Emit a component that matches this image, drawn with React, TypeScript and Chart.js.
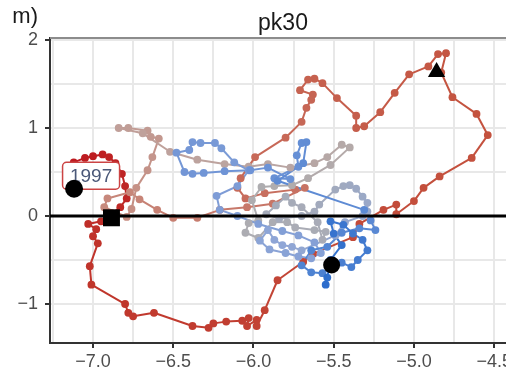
import React, { useEffect, useRef } from "react";
import { Chart, registerables } from "chart.js";

Chart.register(...registerables);

// Trajectory of station pk30 (ordered in time, red = early, blue = late)
const pathX = [
  -7.12, -7.05, -7.0, -6.94, -6.9, -6.86, -6.82, -6.8, -6.79, -6.83,
  -6.88, -6.95, -7.03, -6.98, -7.0, -6.97, -7.02, -7.01, -6.8, -6.78,
  -6.75, -6.62, -6.38, -6.28, -6.25, -6.17, -6.07, -6.03, -6.04, -5.98,
  -5.98, -5.93, -5.85, -5.69, -5.63, -5.38, -5.34, -5.19, -5.11, -5.11,
  -5.0, -4.94, -4.84, -4.64, -4.54, -4.61, -4.76, -4.83, -4.8, -4.85,
  -4.91, -5.03, -5.12, -5.21, -5.31, -5.36, -5.36, -5.48, -5.57, -5.62,
  -5.66, -5.71, -5.63, -5.64, -5.67, -5.7, -5.8, -5.99, -6.08, -6.1,
  -6.05, -5.93, -5.74, -5.68, -5.88, -6.04, -6.21, -6.35, -6.5, -6.6,
  -6.71, -6.77, -6.91, -6.93, -6.79, -6.76, -6.73, -6.66, -6.63, -6.59,
  -6.64, -6.66, -6.78, -6.84, -6.69, -6.52, -6.35, -6.18, -6.03, -5.91,
  -5.77, -5.62, -5.54, -5.45, -5.4, -5.52, -5.66, -5.76, -5.87, -5.95,
  -6.01, -5.97, -6.03, -6.05, -5.97, -5.88, -5.79, -5.74, -5.62, -5.55,
  -5.57, -5.6, -5.7, -5.76, -5.8, -5.86, -5.92, -5.84, -5.7, -5.62,
  -5.59, -5.49, -5.44, -5.4, -5.36,
  -5.32, -5.29, -5.29, -5.32, -5.43, -5.49, -5.7, -5.76, -5.82, -5.87,
  -5.91, -5.96, -5.9, -5.8, -5.72, -5.64, -5.58, -5.62, -5.72, -5.82,
  -5.97, -6.1, -6.21, -6.23, -6.1, -6.03, -6.12, -6.2, -6.24, -6.33,
  -6.38, -6.4, -6.48, -6.43, -6.38, -6.31, -6.18, -6.02, -5.91, -5.77,
  -5.87, -5.72, -5.73, -5.7, -5.67, -5.69, -5.85, -5.31, -5.27, -5.24,
  -5.34, -5.45, -5.54, -5.64, -5.7, -5.64, -5.57, -5.45, -5.39, -5.35,
  -5.29, -5.32, -5.38, -5.44, -5.52, -5.5, -5.45, -5.52, -5.54, -5.55,
];
const pathY = [
  0.61, 0.66, 0.68, 0.7, 0.67, 0.6, 0.48, 0.34, 0.2, 0.1,
  0.03, -0.06, -0.09, -0.15, -0.23, -0.31, -0.57, -0.78, -1.0, -1.1,
  -1.14, -1.1, -1.25, -1.27, -1.22, -1.2, -1.19, -1.16, -1.25, -1.18,
  -1.25, -1.07, -0.73, -0.52, -0.43, -0.24, -0.09, 0.07, 0.13, 0.02,
  0.17, 0.32, 0.45, 0.66, 0.92, 1.16, 1.35, 1.63, 1.85, 1.84,
  1.7, 1.61, 1.4, 1.18, 1.02, 1.0, 1.14, 1.34, 1.51, 1.56,
  1.55, 1.43, 1.38, 1.32, 1.23, 1.07, 0.89, 0.67, 0.43, 0.32,
  0.2, 0.26, 0.3, 0.32, 0.14, 0.1, 0.07, -0.02, -0.02, 0.07,
  0.19, 0.27, 0.2, 0.1, -0.01, 0.08, 0.32, 0.52, 0.67, 0.88,
  0.9, 0.97, 1.0, 1.0, 0.94, 0.73, 0.64, 0.59, 0.56, 0.59,
  0.55, 0.6, 0.67, 0.81, 0.78, 0.58, 0.43, 0.35, 0.34, 0.33,
  0.18, -0.05, -0.08, -0.19, -0.25, -0.07, -0.07, -0.13, -0.16, -0.18,
  -0.27, -0.07, 0.1, 0.15, 0.22, 0.12, 0.02, -0.03, 0.0, 0.05,
  0.13, 0.3, 0.34, 0.35, 0.31,
  0.22, 0.15, 0.05, 0.0, -0.07, -0.22, -0.39, -0.35, -0.33, -0.27,
  -0.16, -0.28, -0.38, -0.42, -0.46, -0.48, -0.42, -0.3, -0.22, -0.17,
  -0.09, 0.0, 0.07, 0.23, 0.34, 0.52, 0.61, 0.77, 0.83, 0.83,
  0.84, 0.75, 0.72, 0.5, 0.48, 0.49, 0.51, 0.52, 0.55, 0.42,
  0.43, 0.56, 0.69, 0.83, 0.84, 0.6, 0.4, 0.07, -0.05, -0.16,
  -0.14, -0.19, -0.35, -0.39, -0.56, -0.64, -0.65, -0.53, -0.58, -0.5,
  -0.39, -0.27, -0.2, -0.1, -0.06, -0.2, -0.33, -0.5, -0.7, -0.78,
];

// Reference markers
const startCircle = { x: -7.118, y: 0.31 };
const startLabel = "1997";
const squareMarker = { x: -6.885, y: -0.02 };
const triangleMarker = { x: -4.859, y: 1.636 };
const endCircle = { x: -5.513, y: -0.557 };

// Axes
const xRange = [-7.268, -4.364];
const yRange = [-1.443, 2.023];
const xGridValues = [-7.25, -7.0, -6.75, -6.5, -6.25, -6.0, -5.75, -5.5, -5.25, -5.0, -4.75, -4.5];
const xTickValues = [-7.0, -6.5, -6.0, -5.5, -5.0, -4.5];
const xTickLabels = ["\u22127.0", "\u22126.5", "\u22126.0", "\u22125.5", "\u22125.0", "\u22124.5"];
const yGridValues = [-1.0, -0.5, 0, 0.5, 1.0, 1.5, 2.0];
const yTickValues = [-1, 0, 1, 2];
const yTickLabels = ["\u22121", "0", "1", "2"];

const panelTitle = "pk30";
const cornerText = "m)";

const FONT = "'Liberation Sans', Arial, Helvetica, sans-serif";

// colour ramp along the time axis of the trajectory
const rampStops: [number, string][] = [
  [0, "#bd1a20"],
  [0.08, "#c0352b"],
  [0.22, "#c4533f"],
  [0.34, "#c76b5b"],
  [0.41, "#c78c80"],
  [0.46, "#bfa19b"],
  [0.53, "#afadaf"],
  [0.64, "#a2aabd"],
  [0.7, "#8fa6d6"],
  [0.84, "#6f94d6"],
  [0.93, "#4f83d2"],
  [1, "#2d6dcc"],
];

function hexToRgb(h: string) {
  const n = parseInt(h.slice(1), 16);
  return [(n >> 16) & 255, (n >> 8) & 255, n & 255];
}

function rampColour(t: number) {
  for (let i = 1; i < rampStops.length; i++) {
    const [t1, c1] = rampStops[i];
    const [t0, c0] = rampStops[i - 1];
    if (t <= t1) {
      const f = (t - t0) / (t1 - t0 || 1);
      const a = hexToRgb(c0);
      const b = hexToRgb(c1);
      const m = a.map((v, k) => Math.round(v + (b[k] - v) * f));
      return `rgb(${m[0]},${m[1]},${m[2]})`;
    }
  }
  return rampStops[rampStops.length - 1][1];
}

const near = (a: number, b: number) => Math.abs(a - b) < 1e-6;

const decorPlugin = {
  id: "panelDecor",
  beforeDraw(chart: any) {
    const { ctx } = chart;
    ctx.save();
    ctx.fillStyle = "#ffffff";
    ctx.fillRect(0, 0, chart.width, chart.height);
    ctx.restore();
  },
  afterDatasetDraw(chart: any, args: any) {
    // label box for the first year, drawn just above the zero line
    if (args.index !== 1) return;
    const { ctx } = chart;
    const xs = chart.scales.x;
    const ys = chart.scales.y;
    const px = xs.getPixelForValue(startCircle.x);
    const py = ys.getPixelForValue(startCircle.y);
    const cx = px + 17;
    const cy = py - 13;
    const w = 57;
    const h = 27;
    ctx.save();
    ctx.beginPath();
    const r = 4;
    const x0 = cx - w / 2;
    const y0 = cy - h / 2;
    ctx.moveTo(x0 + r, y0);
    ctx.arcTo(x0 + w, y0, x0 + w, y0 + h, r);
    ctx.arcTo(x0 + w, y0 + h, x0, y0 + h, r);
    ctx.arcTo(x0, y0 + h, x0, y0, r);
    ctx.arcTo(x0, y0, x0 + w, y0, r);
    ctx.closePath();
    ctx.fillStyle = "#ffffff";
    ctx.fill();
    ctx.lineWidth = 1.5;
    ctx.strokeStyle = "#cc4444";
    ctx.stroke();
    ctx.fillStyle = "#4a5878";
    ctx.font = `19px ${FONT}`;
    ctx.textAlign = "center";
    ctx.textBaseline = "middle";
    ctx.fillText(startLabel, cx, cy + 1);
    ctx.restore();
  },
  afterDraw(chart: any) {
    const { ctx, chartArea } = chart;
    ctx.save();
    // top border of the panel
    ctx.strokeStyle = "#8c8c8c";
    ctx.lineWidth = 2;
    ctx.beginPath();
    ctx.moveTo(chartArea.left, chartArea.top);
    ctx.lineTo(chartArea.right, chartArea.top);
    ctx.stroke();
    // panel title
    ctx.fillStyle = "#1a1a1a";
    ctx.font = `23px ${FONT}`;
    ctx.textAlign = "center";
    ctx.textBaseline = "alphabetic";
    ctx.fillText(panelTitle, (chartArea.left + chartArea.right) / 2, 30);
    // axis title remnant at the top left
    ctx.font = `22px ${FONT}`;
    ctx.textAlign = "right";
    ctx.fillText(cornerText, 38, 23);
    ctx.restore();
  },
};

export default function App() {
  const canvasRef = useRef<HTMLCanvasElement | null>(null);

  useEffect(() => {
    document.body.style.margin = "0";
    document.body.style.overflow = "hidden";
    const canvas = canvasRef.current;
    if (!canvas) return;

    const n = pathX.length;
    const colours = pathX.map((_, i) => rampColour(i / (n - 1)));
    const pathData = pathX.map((x, i) => ({ x, y: pathY[i] }));

    const chart = new Chart(canvas, {
      type: "line",
      data: {
        datasets: [
          {
            // reference markers (drawn on top)
            type: "scatter",
            data: [startCircle, squareMarker, triangleMarker, endCircle],
            pointStyle: ["circle", "rect", "triangle", "circle"],
            pointRadius: [9, 12, 10, 8.5],
            pointBackgroundColor: "#000000",
            pointBorderColor: "#000000",
            pointBorderWidth: 0,
            showLine: false,
            order: 0,
          } as any,
          {
            // zero reference line
            type: "line",
            data: [
              { x: xRange[0], y: 0 },
              { x: xRange[1], y: 0 },
            ],
            borderColor: "#000000",
            borderWidth: 3,
            pointRadius: 0,
            order: 1,
          },
          {
            type: "line",
            data: pathData,
            borderWidth: 2,
            tension: 0,
            pointRadius: 3.9,
            pointBorderWidth: 0,
            pointBackgroundColor: colours,
            pointBorderColor: colours,
            segment: {
              borderColor: (ctx: any) => colours[ctx.p0DataIndex],
            },
            order: 2,
          } as any,
        ],
      },
      options: {
        animation: false,
        responsive: false,
        events: [],
        layout: { padding: { top: 38, right: 14, left: 0, bottom: 0 } },
        plugins: {
          legend: { display: false },
          tooltip: { enabled: false },
        },
        scales: {
          x: {
            type: "linear",
            min: xRange[0],
            max: xRange[1],
            afterFit: (s: any) => {
              s.height = 30;
            },
            afterBuildTicks: (s: any) => {
              s.ticks = xGridValues.map((v) => ({ value: v }));
            },
            ticks: {
              autoSkip: false,
              maxRotation: 0,
              padding: 3,
              color: "#4d4d4d",
              font: { family: FONT, size: 18 },
              callback: (v: any) => {
                const i = xTickValues.findIndex((t) => near(t, Number(v)));
                return i >= 0 ? xTickLabels[i] : "";
              },
            },
            grid: {
              color: "#e8e8e8",
              lineWidth: 2,
              tickLength: 5,
              tickWidth: 2,
              tickColor: (ctx: any) =>
                ctx.tick && xTickValues.some((t) => near(t, ctx.tick.value)) ? "#333333" : "rgba(0,0,0,0)",
            },
            border: { display: true, color: "#333333", width: 2 },
          },
          y: {
            type: "linear",
            min: yRange[0],
            max: yRange[1],
            afterFit: (s: any) => {
              s.width = 50;
            },
            afterBuildTicks: (s: any) => {
              s.ticks = yGridValues.map((v) => ({ value: v }));
            },
            ticks: {
              autoSkip: false,
              padding: 7,
              color: "#4d4d4d",
              font: { family: FONT, size: 18 },
              callback: (v: any) => {
                const i = yTickValues.findIndex((t) => near(t, Number(v)));
                return i >= 0 ? yTickLabels[i] : "";
              },
            },
            grid: {
              color: "#e8e8e8",
              lineWidth: 2,
              tickLength: 5,
              tickWidth: 2,
              tickColor: (ctx: any) =>
                ctx.tick && yTickValues.some((t) => near(t, ctx.tick.value)) ? "#333333" : "rgba(0,0,0,0)",
            },
            border: { display: true, color: "#333333", width: 2 },
          },
        },
      },
      plugins: [decorPlugin],
    });

    return () => chart.destroy();
  }, []);

  return (
    <div style={{ width: 506, height: 373, overflow: "hidden", position: "relative" }}>
      <canvas ref={canvasRef} width={530} height={373} style={{ display: "block" }} />
    </div>
  );
}
